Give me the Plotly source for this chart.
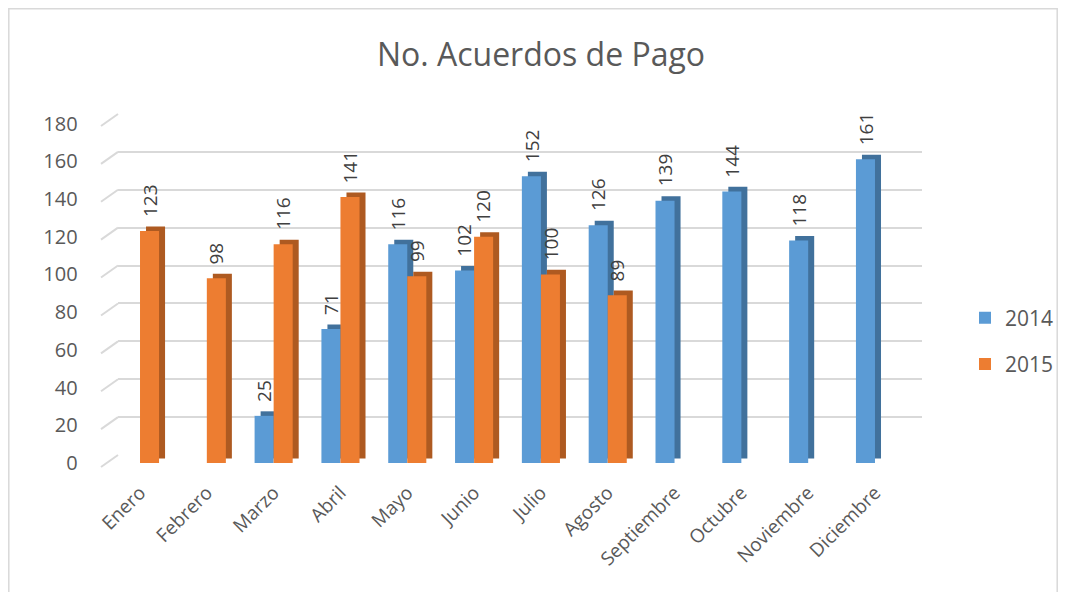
import plotly.graph_objects as go

months = ["Enero", "Febrero", "Marzo", "Abril", "Mayo", "Junio", "Julio",
          "Agosto", "Septiembre", "Octubre", "Noviembre", "Diciembre"]
v2014 = [None, None, 25, 71, 116, 102, 152, 126, 139, 144, 118, 161]
v2015 = [123, 98, 116, 141, 99, 120, 100, 89, None, None, None, None]
y_ticks = [0, 20, 40, 60, 80, 100, 120, 140, 160, 180]

BLUE, BLUE_D = "#5b9bd5", "#41719c"
ORANGE, ORANGE_D = "#ed7d31", "#ae5a21"
W = 0.285     # bar width in category units
DX = 0.09     # depth shift (category units)
DY = 2.4      # depth shift (value units)
FONT = "Open Sans"

FW, FH = 1050, 584   # figure size (page body keeps an 8px margin)


def px_x(p):
    return p / FW


def px_y(p):
    return 1 - p / FH


# front plane (bars) and back wall (gridlines), in figure pixels
FRONT_X = [px_x(98.6), px_x(900.4)]
FRONT_Y = [px_y(455), px_y(115.5)]
BACK_X = [px_x(110), px_x(914)]
BACK_Y = [px_y(447), px_y(106)]
Y_MAX = 180

fig = go.Figure()

# invisible trace that carries the back-wall subplot (gridlines)
fig.add_trace(go.Scatter(x=months, y=v2014, mode="none", xaxis="x", yaxis="y",
                         showlegend=False, hoverinfo="skip"))

# depth faces drawn first
for vals, off, col in [(v2014, -W, BLUE_D), (v2015, 0.0, ORANGE_D)]:
    fig.add_trace(go.Bar(x=months, y=vals, base=DY, offset=off + DX, width=W,
                         xaxis="x2", yaxis="y2",
                         marker=dict(color=col, line=dict(width=0)),
                         showlegend=False, hoverinfo="skip"))

# front faces
for name, vals, off, col in [("2014", v2014, -W, BLUE), ("2015", v2015, 0.0, ORANGE)]:
    fig.add_trace(go.Bar(x=months, y=vals, offset=off, width=W, name=name,
                         xaxis="x2", yaxis="y2", legendgroup=name,
                         marker=dict(color=col, line=dict(width=0))))

# data labels
cat_px = (900.4 - 98.6) / len(months)
for vals, shift in [(v2014, -W / 2), (v2015, W / 2)]:
    for m, v in zip(months, vals):
        if v is None:
            continue
        fig.add_annotation(x=m, y=v, xref="x2", yref="y2", text=str(v),
                           showarrow=False, textangle=-90,
                           xanchor="center", yanchor="bottom",
                           xshift=shift * cat_px, yshift=12,
                           font=dict(family=FONT, size=19, color="#404040"))

# little diagonal stubs joining back gridlines to the front (3-D floor/wall edge)
for t in y_ticks:
    yb = BACK_Y[0] + t / Y_MAX * (BACK_Y[1] - BACK_Y[0])
    fig.add_shape(type="line", xref="paper", yref="paper",
                  x0=BACK_X[0] - 17 / FW, x1=BACK_X[0],
                  y0=yb - 12 / FH, y1=yb,
                  line=dict(color="#d9d9d9", width=2), layer="below")

fig.update_layout(
    width=FW, height=FH,
    barmode="overlay",
    paper_bgcolor="white", plot_bgcolor="rgba(0,0,0,0)",
    margin=dict(l=0, r=0, t=0, b=0, autoexpand=False),
    title=dict(text="No. Acuerdos de Pago", x=px_x(533), xanchor="center",
               y=px_y(47), yanchor="middle",
               font=dict(family=FONT, size=32, color="#595959")),
    font=dict(family=FONT, color="#595959"),
    legend=dict(x=px_x(957), y=px_y(333), xanchor="left", yanchor="middle",
                font=dict(family=FONT, size=21, color="#595959"),
                tracegroupgap=16, bgcolor="rgba(0,0,0,0)"),
    showlegend=True,
    xaxis=dict(domain=BACK_X, type="category", range=[-0.5, 11.5],
               showticklabels=False, showgrid=False, showline=False,
               zeroline=False, ticks="", automargin=False),
    yaxis=dict(domain=BACK_Y, range=[0, Y_MAX], tickvals=y_ticks,
               showticklabels=False, showgrid=True, gridcolor="#d9d9d9",
               gridwidth=2, zeroline=False, showline=False, ticks="",
               automargin=False),
    xaxis2=dict(domain=FRONT_X, anchor="y2", type="category",
                range=[-0.5, 11.5], tickangle=-45, showgrid=False,
                showline=False, zeroline=False, ticks="", automargin=False,
                ticklabelstandoff=14,
                tickfont=dict(family=FONT, size=19, color="#595959")),
    yaxis2=dict(domain=FRONT_Y, anchor="x2", range=[0, Y_MAX], tickvals=y_ticks,
                showgrid=False, zeroline=False, showline=False, ticks="",
                automargin=False, ticklabelstandoff=28,
                tickfont=dict(family=FONT, size=20, color="#595959")),
)

fig.add_shape(type="rect", xref="paper", yref="paper",
              x0=px_x(0.8), x1=px_x(1049.2), y0=-0.1, y1=px_y(0.8),
              line=dict(color="#d9d9d9", width=1.5), layer="below")

fig.write_html("out.html")
